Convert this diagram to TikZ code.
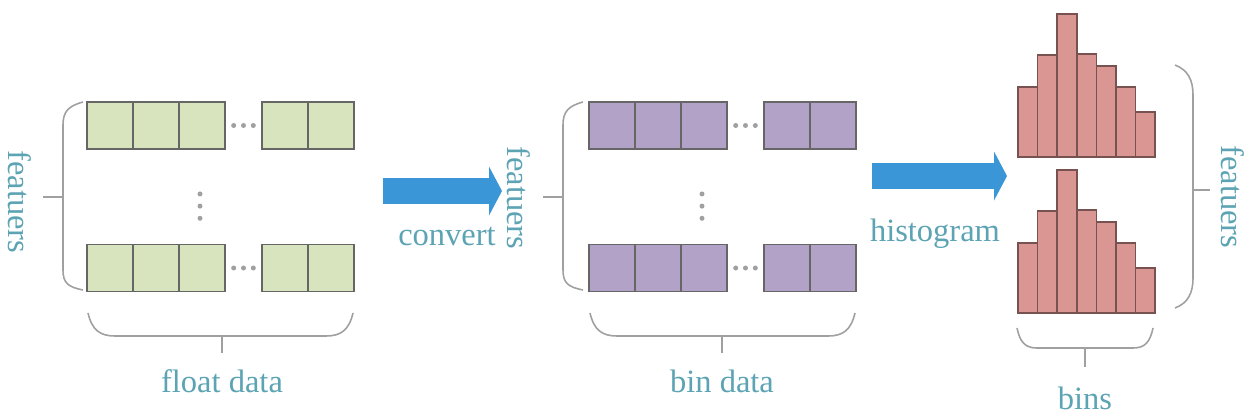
\documentclass[tikz,border=0pt]{standalone}
\usepackage{fontspec}
\setmainfont{Liberation Serif}
\usepackage{xcolor}
\usetikzlibrary{arrows.meta, calc, positioning}

\definecolor{cellgreen}{RGB}{215,228,190}
\definecolor{cellpurple}{RGB}{178,162,200}
\definecolor{barred}{RGB}{218,150,146}
\definecolor{arrowblue}{RGB}{58,150,214}
\definecolor{labelteal}{RGB}{92,163,180}
\definecolor{bracegray}{RGB}{160,160,160}

\tikzset{
    x={(0.02cm,0)}, y={(0,-0.02cm)}, % work in pixel steps, y going down
    cell/.style={draw=black!60, line width=1.1pt, inner sep=0pt,
        minimum width=0.92cm, minimum height=0.94cm}, % one value of a row
    bar/.style={draw=black!45!barred, line width=0.9pt, fill=barred}, % one histogram bin
    brace/.style={draw=bracegray, line width=0.9pt}, % grouping brackets
    lbl/.style={text=labelteal, font=\fontsize{18.5}{22}\selectfont}, % every caption
    bigarrow/.style={draw=arrowblue, line width=0.52cm,
        -{Triangle[length=0.26cm 0 0, width=0.98cm 0 0, line width=0pt]}},
}

\begin{document}
\begin{tikzpicture}
    \useasboundingbox (0,0) rectangle (1250,417);

    % the two grids: float values (f) and bin values (b)
    \foreach \blk/\dx/\fc in {f/0/cellgreen, b/502/cellpurple} {
        \foreach \row/\y in {1/125.5, 2/268} {
            \foreach \col/\x in {1/110, 2/156, 3/202, 4/285, 5/331}
                \node[cell, fill=\fc] (\blk-\row-\col) at (\x+\dx,\y) {};
            \foreach \k in {0.22,0.5,0.78}
                \fill[bracegray] ($(\blk-\row-3.east)!\k!(\blk-\row-4.west)$) circle (0.05cm);
        }
        \foreach \k in {0.47,0.6,0.73}
            \fill[bracegray] ($(\blk-1-3.south)!\k!(\blk-2-3.north)$) ++(-2,0) circle (0.05cm);
    }

    % brackets round the float grid
    \draw[brace] (83,102) .. controls (68,106) and (63,112) .. (63,125) -- (63,270)
        .. controls (63,283) and (68,287) .. (83,290);
    \draw[brace] (43,197) -- (63,197);
    \draw[brace] (88,313) .. controls (92,330) and (100,336) .. (115,336) -- (326,336)
        .. controls (341,336) and (349,330) .. (353,313);
    \draw[brace] (222,336) -- (222,353);

    % brackets round the bin grid
    \draw[brace] (583,102) .. controls (568,106) and (563,112) .. (563,125) -- (563,270)
        .. controls (563,283) and (568,287) .. (583,290);
    \draw[brace] (543,197) -- (563,197);
    \draw[brace] (590,313) .. controls (594,330) and (602,336) .. (617,336) -- (828,336)
        .. controls (843,336) and (851,330) .. (855,313);
    \draw[brace] (722,336) -- (722,353);

    % one histogram per feature
    \foreach \h [count=\i from 0] in {70,102,143,103,91,70,45}
        \foreach \base in {157,313}
            \draw[bar] (1018+\i*19.6,\base) rectangle ++(19.6,-\h);

    \draw[brace] (1175,65) .. controls (1188,70) and (1193,80) .. (1193,95) -- (1193,278)
        .. controls (1193,293) and (1188,303) .. (1175,308);
    \draw[brace] (1193,190) -- (1210,190);
    \draw[brace] (1017,328) .. controls (1020,342) and (1025,348) .. (1037,348) -- (1133,348)
        .. controls (1145,348) and (1150,342) .. (1153,328);
    \draw[brace] (1085,348) -- (1085,367);

    % captions
    \node[lbl, rotate=-90] (featf) at (20,202) {featuers};
    \node[lbl, rotate=-90] (featb) at (519,198) {featuers};
    \node[lbl, rotate=-90] (feath) at (1233,197) {featuers};
    \node[lbl] (fdata) at (222,381) {float data};
    \node[lbl] (bdata) at (722,381) {bin data};
    \node[lbl] (bins) at (1085,398) {bins};
    \node[lbl] (conv) at (447,236) {convert};
    \node[lbl] (histo) at (935,234) {histogram};

    % the two steps
    \coordinate (c1a) at (383,191);
    \coordinate (c1b) at (502,191);
    \coordinate (c2a) at (872,176);
    \coordinate (c2b) at (1007,176);
    \draw[bigarrow] (c1a) -- (c1b);
    \draw[bigarrow] (c2a) -- (c2b);
\end{tikzpicture}
\end{document}
